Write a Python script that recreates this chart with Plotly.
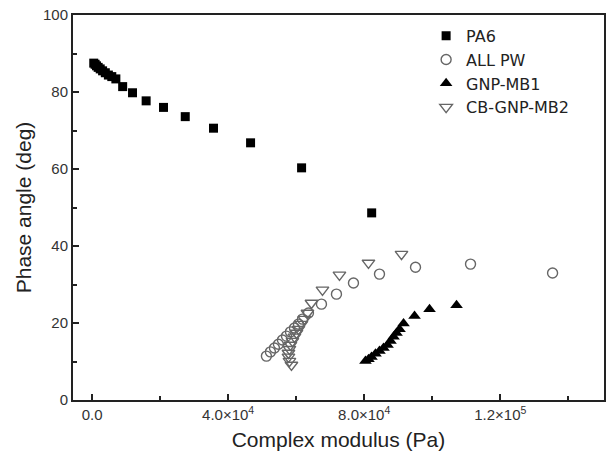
import plotly.graph_objects as go

pa6_x = [500, 900, 1300, 1800, 2400, 3100, 3900, 4800, 5800, 7000, 9000, 11900, 15900, 21000, 27400, 35700, 46600, 61600, 82200]
pa6_y = [87.5, 87.2, 86.8, 86.4, 86.0, 85.5, 85.0, 84.4, 84.0, 83.4, 81.4, 79.8, 77.7, 76.0, 73.6, 70.6, 66.8, 60.3, 48.6]

allpw_x = [51260, 52440, 53620, 54790, 55970, 57150, 58320, 59500, 60680, 61860, 63620, 67440, 71850, 76850, 84500, 95090, 111260, 135380]
allpw_y = [11.4, 12.5, 13.5, 14.5, 15.6, 16.6, 17.7, 18.7, 19.7, 21.0, 22.6, 24.9, 27.5, 30.4, 32.7, 34.5, 35.3, 33.0]

gnp_x = [80380, 81270, 82150, 83330, 84500, 85680, 86860, 87740, 88630, 89510, 90390, 91570, 94800, 99210, 107150]
gnp_y = [10.1, 10.6, 11.2, 12.0, 12.7, 13.5, 14.3, 15.3, 16.4, 17.4, 18.4, 19.9, 21.8, 23.6, 24.6]

cb_x = [58620, 58030, 57740, 57740, 58030, 58320, 58910, 59500, 60090, 60680, 61560, 62440, 63320, 64500, 67740, 72730, 81260, 90970]
cb_y = [9.1, 10.1, 11.2, 12.2, 13.2, 14.3, 15.3, 16.4, 17.4, 18.4, 19.7, 21.0, 22.6, 25.2, 28.6, 32.5, 35.6, 37.9]

x_tickvals = [0, 40000, 80000, 120000]
x_ticktext = ["0.0", "4.0×10<sup>4</sup>", "8.0×10<sup>4</sup>", "1.2×10<sup>5</sup>"]
x_minor = [20000, 60000, 100000, 140000]

FONT = "Liberation Sans, Arial"

fig = go.Figure()
fig.add_trace(go.Scatter(x=pa6_x, y=pa6_y, mode="markers", name="PA6",
                         marker=dict(symbol="square", size=9, color="black")))
fig.add_trace(go.Scatter(x=allpw_x, y=allpw_y, mode="markers", name="ALL PW",
                         marker=dict(symbol="circle-open", size=10, color="#666666", line=dict(width=1.4))))
fig.add_trace(go.Scatter(x=gnp_x, y=gnp_y, mode="markers", name="GNP-MB1",
                         marker=dict(symbol="triangle-up", size=11, color="black")))
fig.add_trace(go.Scatter(x=cb_x, y=cb_y, mode="markers", name="CB-GNP-MB2",
                         marker=dict(symbol="triangle-down-open", size=11, color="#666666", line=dict(width=1.4))))

axis_common = dict(showgrid=False, zeroline=False, showline=True, linecolor="#222",
                   linewidth=2, mirror=True, ticks="inside", ticklen=6, tickwidth=1.5,
                   tickcolor="#222", automargin=False)

fig.update_xaxes(range=[-5600, 150500], tickmode="array", tickvals=x_tickvals, ticktext=x_ticktext,
                 minor=dict(tickmode="array", tickvals=x_minor, ticks="inside", ticklen=4, tickcolor="#222", tickwidth=1.5),
                 tickfont=dict(family=FONT, size=15, color="#333"),
                 title=dict(text="Complex modulus (Pa)", font=dict(family=FONT, size=21, color="#222"), standoff=10),
                 **axis_common)
fig.update_yaxes(range=[0, 100], tickmode="linear", tick0=0, dtick=20,
                 minor=dict(tickmode="linear", tick0=0, dtick=10, ticks="inside", ticklen=4, tickcolor="#222", tickwidth=1.5),
                 tickfont=dict(family=FONT, size=15, color="#333"),
                 title=dict(text="Phase angle (deg)", font=dict(family=FONT, size=21, color="#222"), standoff=6),
                 **axis_common)

fig.update_layout(
    width=608, height=456,
    margin=dict(l=73, r=4, t=15, b=56),
    plot_bgcolor="white", paper_bgcolor="white",
    legend=dict(x=0.665, y=0.99, xanchor="left", yanchor="top",
                bgcolor="rgba(0,0,0,0)", borderwidth=0,
                font=dict(family="DejaVu Sans", size=16, color="#222"),
                tracegroupgap=0),
    showlegend=True,
)

fig.write_html("out.html", config={"displayModeBar": False},
               post_script="document.body.style.margin='0';document.body.style.padding='0';")
